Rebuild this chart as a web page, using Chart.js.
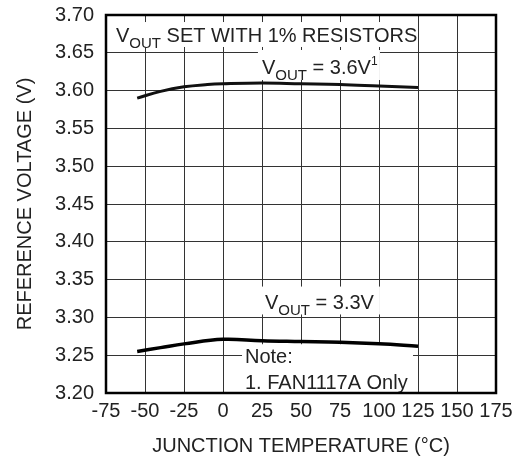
<!DOCTYPE html>
<html>
<head>
<meta charset="utf-8">
<script src="https://cdn.jsdelivr.net/npm/chart.js@4/dist/chart.umd.min.js"></script>
<style>
  html, body { margin: 0; padding: 0; background: #fff; }
  #wrap { width: 523px; height: 459px; }
</style>
</head>
<body>
<div id="wrap"><canvas id="refChart" width="523" height="459"></canvas></div>
<script>
// Data
const temps36 = [-55, -40, -25, -10, 0, 25, 50, 75, 100, 125];
const vout36 = [3.590, 3.599, 3.605, 3.608, 3.609, 3.610, 3.609, 3.608, 3.606, 3.604];
const temps33 = [-55, -40, -25, 0, 25, 50, 75, 100, 125];
const vout33 = [3.255, 3.260, 3.265, 3.271, 3.269, 3.268, 3.267, 3.265, 3.262];

const xTicks = [-75, -50, -25, 0, 25, 50, 75, 100, 125, 150, 175];
const yTicks = [3.20, 3.25, 3.30, 3.35, 3.40, 3.45, 3.50, 3.55, 3.60, 3.65, 3.70];

const FONT = '"Liberation Sans", Arial, sans-serif';
const INK = '#222';

// text labels on the plot, with white boxes behind them
const notes = [
  { box: [-75, 123, 3.6907, 3.6577], at: [-68.6, 3.6640],
    lines: [[{ t: 'V' }, { t: 'OUT', sub: true }, { t: ' SET WITH 1% RESISTORS' }]] },
  { box: [22.4, 100.6, 3.6537, 3.614], at: [25, 3.622],
    lines: [[{ t: 'V' }, { t: 'OUT', sub: true }, { t: ' = 3.6V' }, { t: '1', sup: true }]] },
  { box: [22.4, 100.6, 3.3408, 3.3039], at: [26.9, 3.3114],
    lines: [[{ t: 'V' }, { t: 'OUT', sub: true }, { t: ' = 3.3V' }]] },
  { box: [12.2, 121.8, 3.2645, 3.20], at: [14.1, 3.2399], step: 3.2399 - 3.2048,
    lines: [[{ t: 'Note:' }], [{ t: '1. FAN1117A Only' }]] }
];

function drawRich(ctx, segs, x, y) {
  segs.forEach(s => {
    const size = s.sub ? 15 : (s.sup ? 12 : 20);
    ctx.font = size + 'px ' + FONT;
    const dy = s.sub ? 6 : (s.sup ? -9 : 0);
    ctx.fillText(s.t, x, y + dy);
    x += ctx.measureText(s.t).width;
  });
}

const notesPlugin = {
  id: 'notes',
  beforeDatasetsDraw(chart) {
    const { ctx, scales: { x, y } } = chart;
    ctx.save();
    notes.forEach(n => {
      const x0 = x.getPixelForValue(n.box[0]), x1 = x.getPixelForValue(n.box[1]);
      const y0 = y.getPixelForValue(n.box[2]), y1 = y.getPixelForValue(n.box[3]);
      ctx.fillStyle = '#fff';
      ctx.fillRect(x0, y0, x1 - x0, y1 - y0);
      ctx.fillStyle = INK;
      ctx.textBaseline = 'alphabetic';
      ctx.textAlign = 'left';
      n.lines.forEach((line, i) => {
        drawRich(ctx, line, x.getPixelForValue(n.at[0]),
          y.getPixelForValue(n.at[1] - i * (n.step || 0)));
      });
    });
    ctx.restore();
  },
  afterDraw(chart) {
    const { ctx, chartArea: a } = chart;
    ctx.save();
    ctx.strokeStyle = '#000';
    ctx.lineWidth = 2.5;
    ctx.strokeRect(a.left, a.top, a.right - a.left, a.bottom - a.top);
    ctx.restore();
  }
};

// keep the plot box fixed, whatever the label sizes
function fixBox(size) {
  return s => {
    if (s.isHorizontal()) s.height = size; else s.width = size;
    s.paddingTop = 0; s.paddingBottom = 0;
    s.paddingLeft = 0; s.paddingRight = 0;
  };
}

new Chart(document.getElementById('refChart'), {
  type: 'line',
  data: {
    datasets: [
      {
        label: 'VOUT = 3.6V',
        data: temps36.map((t, i) => ({ x: t, y: vout36[i] })),
        borderColor: '#111',
        borderWidth: 3,
        pointRadius: 0,
        tension: 0.4,
        fill: false
      },
      {
        label: 'VOUT = 3.3V',
        data: temps33.map((t, i) => ({ x: t, y: vout33[i] })),
        borderColor: '#000',
        borderWidth: 3.5,
        pointRadius: 0,
        tension: 0.4,
        fill: false
      }
    ]
  },
  options: {
    responsive: false,
    animation: false,
    layout: { padding: { top: 15, right: 27, left: 0, bottom: 0 } },
    plugins: {
      legend: { display: false },
      tooltip: { enabled: false }
    },
    scales: {
      x: {
        type: 'linear',
        min: -75,
        max: 175,
        afterBuildTicks: s => { s.ticks = xTicks.map(v => ({ value: v })); },
        afterFit: fixBox(66),
        grid: { color: '#333', lineWidth: 1, drawTicks: false },
        border: { display: false },
        ticks: { color: INK, font: { family: FONT, size: 20 }, padding: 6, maxRotation: 0, autoSkip: false },
        title: {
          display: true,
          text: 'JUNCTION TEMPERATURE (°C)',
          color: INK,
          font: { family: FONT, size: 20 },
          padding: { top: 0, bottom: 1 }
        }
      },
      y: {
        min: 3.2,
        max: 3.7,
        afterBuildTicks: s => { s.ticks = yTicks.map(v => ({ value: v })); },
        afterFit: fixBox(106),
        grid: { color: '#333', lineWidth: 1, drawTicks: false },
        border: { display: false },
        ticks: {
          color: INK,
          font: { family: FONT, size: 20 },
          padding: 12,
          autoSkip: false,
          callback: v => v.toFixed(2)
        },
        title: {
          display: true,
          text: 'REFERENCE VOLTAGE (V)',
          color: INK,
          font: { family: FONT, size: 20 },
          padding: { top: 13, bottom: 0 }
        }
      }
    }
  },
  plugins: [notesPlugin]
});
</script>
</body>
</html>
